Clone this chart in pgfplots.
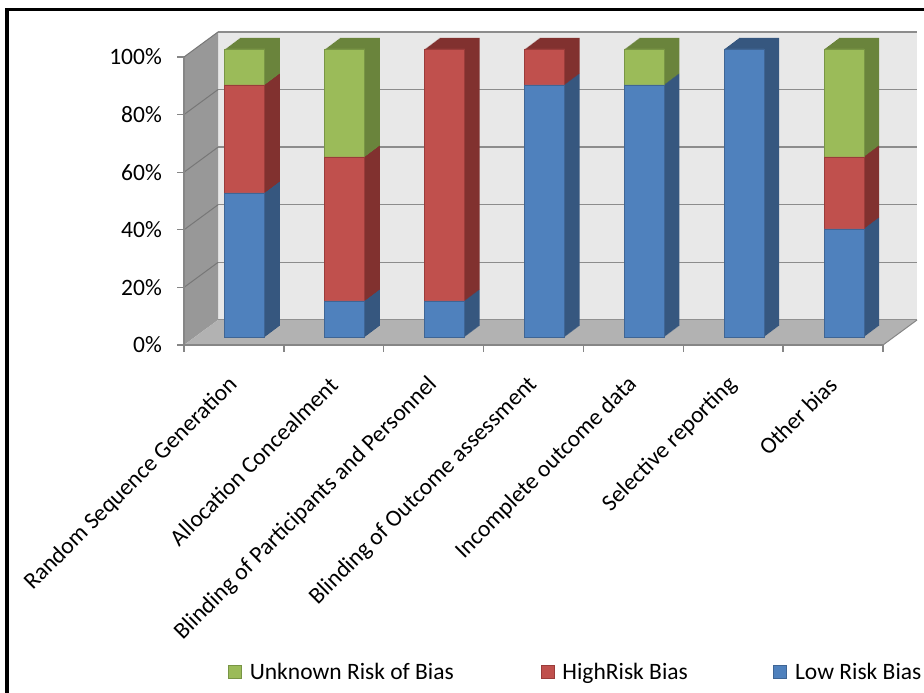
\documentclass[border=0pt]{standalone}
\usepackage{fontspec}
\setmainfont{Carlito}
\usepackage{pgfplots}
\usepackage{pgfplotstable}
\pgfplotsset{compat=1.18}
\definecolor{cblue}{HTML}{4F81BD}
\definecolor{cred}{HTML}{C0504D}
\definecolor{cgreen}{HTML}{9BBB59}
\definecolor{bedge}{HTML}{3F6594}
\definecolor{redge}{HTML}{9A3C3A}
\definecolor{gedge}{HTML}{789545}
\definecolor{bside}{HTML}{36577F}
\definecolor{rside}{HTML}{81312F}
\definecolor{gside}{HTML}{6A843C}
\definecolor{wallc}{HTML}{E8E8E8}
\definecolor{sidec}{HTML}{989898}
\definecolor{floorc}{HTML}{B2B2B2}
\definecolor{gridc}{HTML}{8C8C8C}
\definecolor{axc}{HTML}{868686}

\pgfplotstableread{
x low high unk
0 50 37.5 12.5
1 12.5 50 37.5
2 12.5 87.5 0
3 87.5 12.5 0
4 87.5 0 12.5
5 100 0 0
6 37.5 25 37.5
}\datatab

\pgfplotsset{
  frame/.style={width=699pt, height=288pt, scale only axis, anchor=south west,
    xmin=-0.5, xmax=6.5, ymin=0, ymax=100},
  baraxis/.style={frame, axis lines=none, ybar stacked, bar width=40pt,
    xtick=\empty, ytick=\empty, clip=false},
}

\begin{document}
\begin{tikzpicture}[x=1pt,y=1pt]
\useasboundingbox (0,0) rectangle (924,693);
\fill[white] (0,0) rectangle (924,693);

% back wall
\begin{axis}[frame, at={(218pt,373pt)},
  axis background/.style={fill=wallc},
  axis line style={draw=none}, tick style={draw=none},
  xtick=\empty, ytick={0,20,...,100}, yticklabels={},
  ymajorgrids, major grid style={gridc, line width=1.4pt}]
\end{axis}

% side wall
\fill[sidec] (184,348) -- (184,636) -- (218,661) -- (218,373) -- cycle;
\foreach \k in {1,...,5} {
  \draw[gridc!85!black, line width=1pt] (184,348+57.6*\k) -- (218,373+57.6*\k);
}
% floor
\fill[floorc] (184,348) -- (883,348) -- (917,373) -- (218,373) -- cycle;
\draw[axc, line width=1pt] (883,348) -- (917,373);

% bar depth layers
\foreach \k in {15,14,...,1} {
\begin{axis}[baraxis, at={(195pt+\k*1pt, 356pt+0.7333*\k*1pt)}]
\addplot[fill=bside, draw=none] table[x=x, y=low] {\datatab};
\addplot[fill=rside, draw=none] table[x=x, y=high] {\datatab};
\addplot[fill=gside, draw=none] table[x=x, y=unk] {\datatab};
\end{axis}
}

% bar front faces
\begin{axis}[baraxis, at={(195pt,356pt)}]
\addplot[fill=cblue, draw=bedge, line width=0.9pt] table[x=x, y=low] {\datatab};
\addplot[fill=cred, draw=redge, line width=0.9pt] table[x=x, y=high] {\datatab};
\addplot[fill=cgreen, draw=gedge, line width=0.9pt] table[x=x, y=unk] {\datatab};
\end{axis}

% front axis lines and tick marks
\begin{axis}[frame, at={(184pt,348pt)},
  axis x line*=bottom, axis y line*=left,
  axis line style={axc, line width=1.3pt, -},
  tick style={axc, line width=1.3pt},
  tick align=outside, major tick length=7pt,
  xtick={-0.5,0.5,...,6.5}, xticklabels={},
  ytick={0,20,...,100}, yticklabels={}]
\end{axis}

% labels and legend
\begin{axis}[frame, at={(184pt,348pt)},
  axis line style={draw=none}, tick style={draw=none},
  major tick length=0pt,
  tick label style={font=\fontsize{23.5}{28}\selectfont, text=black},
  xtick={0,...,6},
  xticklabels={Random Sequence Generation, Allocation Concealment,
    Blinding of Participants and Personnel, Blinding of Outcome assessment,
    Incomplete outcome data, Selective reporting, Other bias},
  xticklabel style={rotate=45, anchor=east, inner sep=0pt},
  xticklabel shift=36pt,
  ytick={0,20,...,100},
  yticklabels={0\%,20\%,40\%,60\%,80\%,100\%},
  yticklabel style={anchor=east, inner sep=0pt},
  yticklabel shift=22pt,
  legend columns=3,
  legend style={at={(0.0629,-1.1354)}, anchor=west, draw=none, fill=none,
    inner sep=0pt, column sep=0pt,
    font=\fontsize{23.5}{28}\selectfont,
    nodes={inner sep=0pt}},
  legend image code/.code={\draw[#1, line width=0.9pt] (0pt,-6.5pt) rectangle (13pt,6.5pt); \path (21pt,0pt);},
]
\addlegendimage{fill=cgreen, draw=gedge}
\addlegendentry{\makebox[291pt][l]{Unknown Risk of Bias}}
\addlegendimage{fill=cred, draw=redge}
\addlegendentry{\makebox[211pt][l]{HighRisk Bias}}
\addlegendimage{fill=cblue, draw=bedge}
\addlegendentry{Low Risk Bias}
\end{axis}

% outer frame
\draw[black, line width=3.5pt] (7,-20) -- (7,683.3) -- (950,683.3);
\end{tikzpicture}
\end{document}
